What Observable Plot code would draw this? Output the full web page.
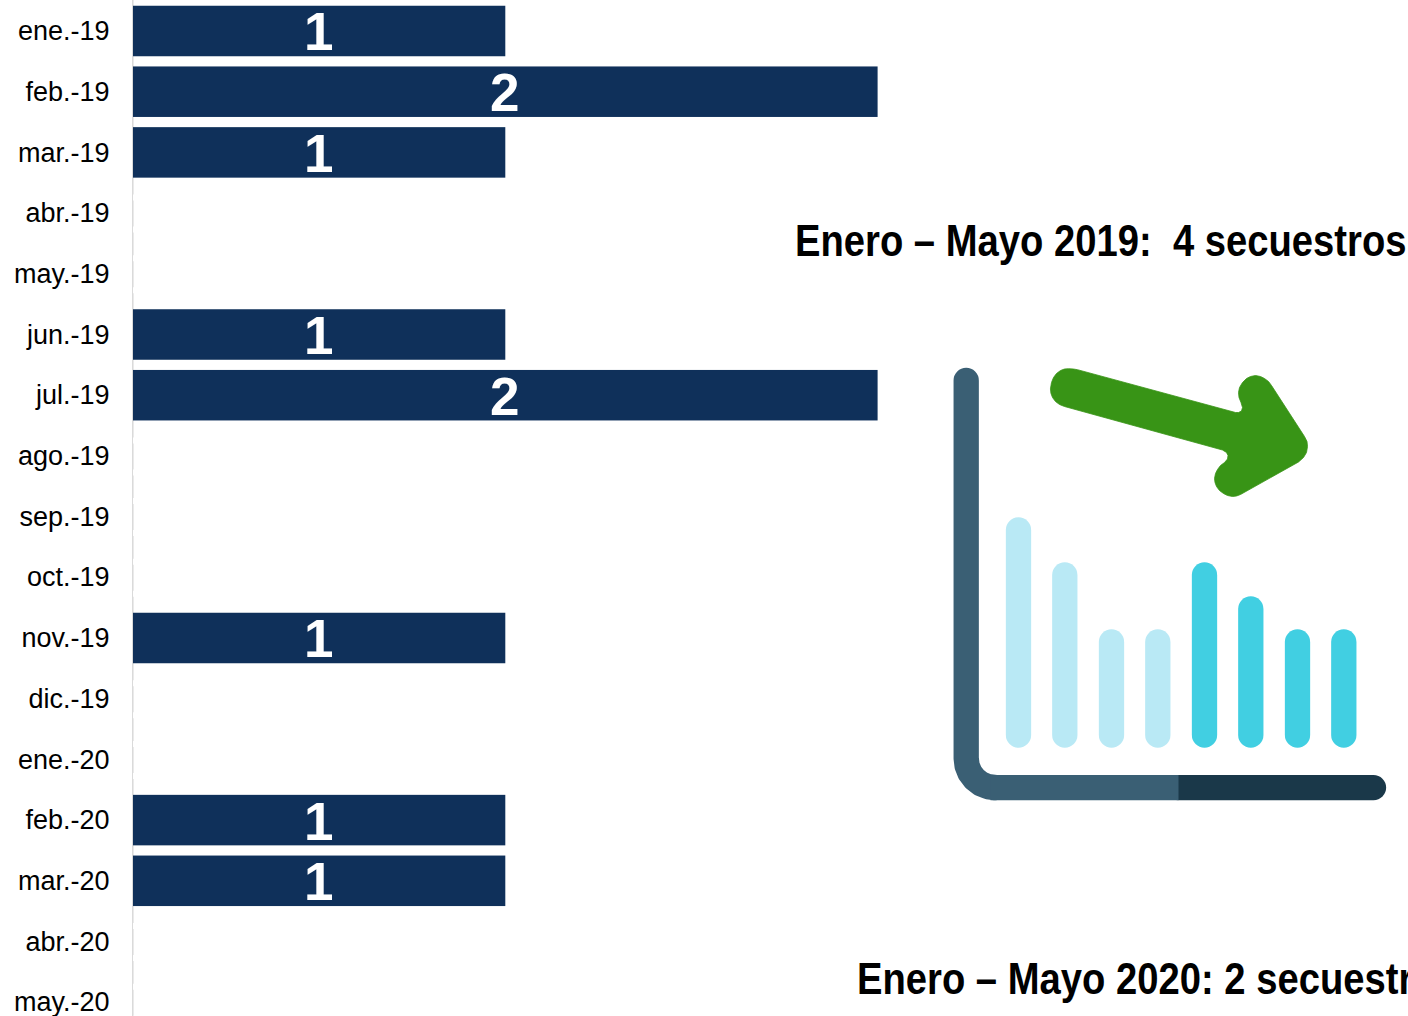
<!DOCTYPE html>
<html><head><meta charset="utf-8">
<script src="https://cdn.jsdelivr.net/npm/d3@7"></script>
<script src="https://cdn.jsdelivr.net/npm/@observablehq/plot@0.6"></script>
<style>
html,body{margin:0;padding:0;background:#fff;width:1408px;height:1016px;overflow:hidden}
#wrap{position:relative;width:1408px;height:1016px;overflow:hidden}
#wrap svg{position:absolute;left:0;top:0;background:transparent;overflow:hidden}
</style></head><body><div id="wrap"></div>
<script>
// Chart data
const months = ["ene.-19","feb.-19","mar.-19","abr.-19","may.-19","jun.-19","jul.-19","ago.-19","sep.-19","oct.-19","nov.-19","dic.-19","ene.-20","feb.-20","mar.-20","abr.-20","may.-20"];
const secuestros = [1,2,1,0,0,1,2,0,0,0,1,0,0,1,1,0,0];
// Annotations
const title2019 = "Enero – Mayo 2019:  4 secuestros";
const title2020 = "Enero – Mayo 2020: 2 secuestros";
// Decorative icon (units: picture pixels)
const iconBarX = [1018,1064.3,1111,1157.3,1204,1250.3,1297,1343.3];
const iconBarTop = [530,575,642,642,575,609,642,642];
const iconBarColor = ["#b9e9f5","#b9e9f5","#b9e9f5","#b9e9f5","#41cfe2","#41cfe2","#41cfe2","#41cfe2"];
const iconBarBottom = 735;
const axisVertical = [[965.7,380],[965.7,757.7],[966.6,765.3],[969.5,772.4],[974.2,778.5],[980.3,783.2],[987.4,786.1],[995,787.1]];
const axisLight = [[990,787.1],[1178,787.1]];
const axisDark = [[1178,787.1],[1373,787.1]];
const arrowOutline = [[1050,388],[1051,382],[1053,377],[1056,373],[1060,370],[1064,368.5],[1068,368.2],[1073,368.5],[1077,369.2],[1235,412],[1238,412],[1241,410.5],[1242,407],[1240.5,402],[1238.5,397],[1238,392],[1239,387],[1242,382],[1246,378],[1250,376],[1255,375],[1260,376],[1264,378],[1268,381],[1271,385],[1304,436],[1306.5,441],[1307,446],[1306,452],[1303,457],[1298,461.5],[1240,494],[1236,495.5],[1232,496],[1227,495],[1223,493],[1219,490],[1216,486],[1214.5,482],[1214,478],[1215,473],[1217,469],[1220,465],[1224,462],[1227,458.5],[1227.5,455],[1226,452],[1222,449.5],[1064,406],[1059,404],[1055,401],[1052,397],[1050.5,393]];

const data = months.map((m,i)=>({m,v:secuestros[i]}));
const filled = data.filter(d=>d.v>0);
const empty = data.filter(d=>d.v===0);
const pts = a => a.map(([x,y])=>({x,y}));

const chart = Plot.plot({
  width:1408,height:1016,
  marginLeft:133,marginTop:0,marginRight:0,marginBottom:0,
  style:{background:"transparent"},
  x:{domain:[0,2],range:[133,877.6],axis:null},
  y:{domain:months,range:[0.65,1032.55],paddingInner:0.168,paddingOuter:0.084,round:false,label:null},
  marks:[
    Plot.ruleX([0],{stroke:"#d9d9d9",strokeWidth:1.5,dx:-0.7}),
    Plot.tickY(empty,{y:"m",x1:-0.012,x2:0.002,stroke:"#fff",strokeWidth:6,dy:-16}),
    Plot.tickY(empty,{y:"m",x1:-0.012,x2:0.002,stroke:"#fff",strokeWidth:6,dy:16}),
    Plot.barX(filled,{y:"m",x:"v",fill:"#0f305a"}),
    Plot.text(filled,{y:"m",x:d=>d.v/2,text:d=>String(d.v),fill:"#fff",fontSize:53,fontWeight:"bold",fontFamily:"Liberation Sans",dy:2,dx:-1}),
    Plot.axisY({anchor:"left",tickSize:0,tickPadding:24,fontSize:27,fontFamily:"Liberation Sans",color:"#000",label:null})
  ]
});

const icon = Plot.plot({
  width:1408,height:1016,margin:0,
  style:{background:"transparent"},
  x:{domain:[0,1408],range:[0,1408],axis:null},
  y:{domain:[0,1016],range:[0,1016],axis:null},
  marks:[
    Plot.ruleX(iconBarX.map((x,i)=>({x,top:iconBarTop[i],c:iconBarColor[i]})),{x:"x",y1:"top",y2:iconBarBottom,stroke:"c",strokeWidth:25.3,strokeLinecap:"round"}),
    Plot.line(pts(axisVertical),{x:"x",y:"y",stroke:"#3a5f74",strokeWidth:25.3,strokeLinecap:"round",strokeLinejoin:"round"}),
    Plot.line(pts(axisDark),{x:"x",y:"y",stroke:"#1a3849",strokeWidth:25.3,strokeLinecap:"round"}),
    Plot.line(pts(axisLight),{x:"x",y:"y",stroke:"#3a5f74",strokeWidth:25.3,strokeLinecap:"butt"}),
    Plot.line(pts(arrowOutline),{x:"x",y:"y",fill:"#389416",stroke:"#389416",strokeWidth:0.8,strokeLinejoin:"round",curve:"linear-closed"}),
    Plot.text([title2019],{x:[794.5],y:[241],text:d=>d,textAnchor:"start",fontSize:45,fontWeight:"bold",fontFamily:"Liberation Sans",fill:"#000",lineAnchor:"middle"}),
    Plot.text([title2020],{x:[856.5],y:[979],text:d=>d,textAnchor:"start",fontSize:45,fontWeight:"bold",fontFamily:"Liberation Sans",fill:"#000",lineAnchor:"middle"})
  ]
});
const wrap=document.getElementById("wrap");
wrap.append(chart,icon);
// The annotations use a condensed bold face: squeeze Liberation Sans Bold to its width
const heads = Array.from(icon.querySelectorAll("text"));
const ratio = 611.5 / heads[0].getComputedTextLength();
heads.forEach(t=>{
  t.setAttribute("textLength", t.getComputedTextLength()*ratio);
  t.setAttribute("lengthAdjust","spacingAndGlyphs");
});
</script></body></html>
